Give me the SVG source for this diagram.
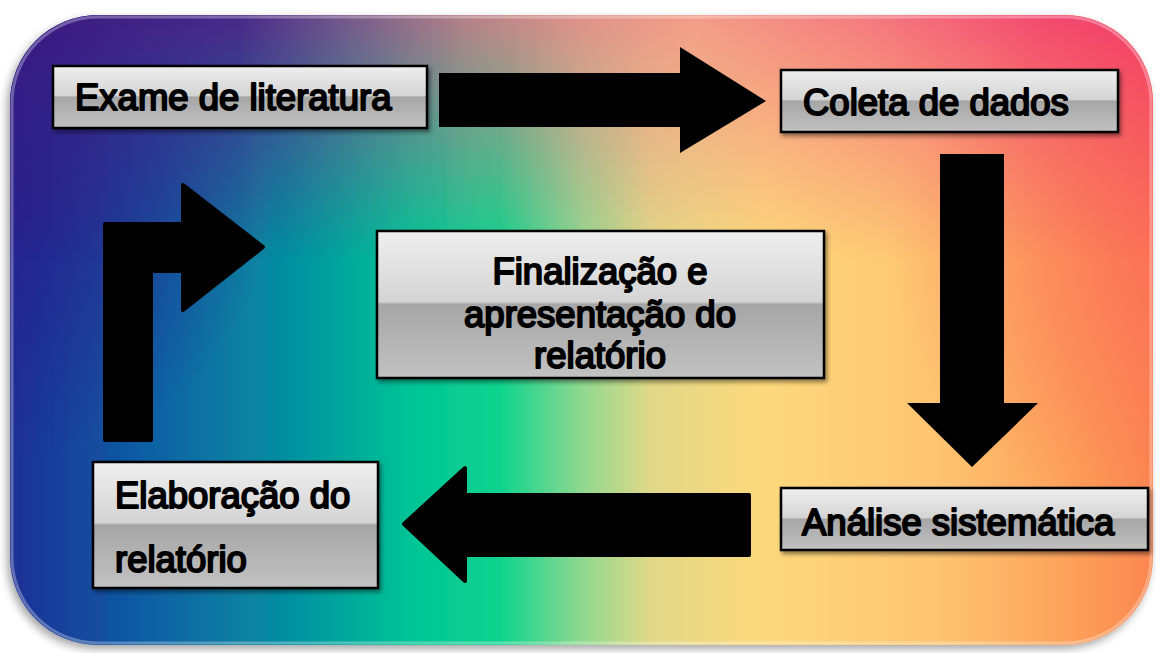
<svg xmlns="http://www.w3.org/2000/svg" width="1156" height="653" viewBox="0 0 1156 653">
<defs>
<style>
.box{stroke:#000;stroke-width:2.5;fill:url(#boxGrad);filter:url(#nodeShadow)}
.lbl{font-family:"Liberation Sans",Arial,Helvetica,sans-serif;font-size:36.5px;fill:#000;stroke:#000;stroke-width:2;stroke-linejoin:round}
.arrow{fill:#000}
.arrowR{fill:#000;stroke:#000;stroke-width:4;stroke-linejoin:round}
</style>
<linearGradient id="boxGrad" x1="0" y1="0" x2="0" y2="1">
<stop offset="0" stop-color="#efefef"/>
<stop offset="0.48" stop-color="#d4d4d4"/>
<stop offset="0.5" stop-color="#a6a6a6"/>
<stop offset="1" stop-color="#c2c2c2"/>
</linearGradient>
<linearGradient id="bgBase" x1="10" y1="0" x2="1153" y2="0" gradientUnits="userSpaceOnUse">
<stop offset="0" stop-color="#1c2f96"/>
<stop offset="0.12" stop-color="#0d5fa4"/>
<stop offset="0.25" stop-color="#0592a0"/>
<stop offset="0.35" stop-color="#00c496"/>
<stop offset="0.43" stop-color="#10d48e"/>
<stop offset="0.5" stop-color="#8fd890"/>
<stop offset="0.56" stop-color="#e0d888"/>
<stop offset="0.66" stop-color="#fdd97c"/>
<stop offset="0.82" stop-color="#fdc270"/>
<stop offset="0.93" stop-color="#fca05a"/>
<stop offset="1" stop-color="#fb8650"/>
</linearGradient>
<linearGradient id="bgTop" x1="10" y1="0" x2="1153" y2="0" gradientUnits="userSpaceOnUse">
<stop offset="0" stop-color="#3a1880"/>
<stop offset="0.2" stop-color="#4a2888"/>
<stop offset="0.3" stop-color="#7a5a8a"/>
<stop offset="0.4" stop-color="#b88088"/>
<stop offset="0.5" stop-color="#e0928a"/>
<stop offset="0.6" stop-color="#f29c88"/>
<stop offset="0.75" stop-color="#f47a80"/>
<stop offset="0.9" stop-color="#f24a70"/>
<stop offset="1" stop-color="#f23a68"/>
</linearGradient>
<linearGradient id="topFade" x1="0" y1="15" x2="0" y2="260" gradientUnits="userSpaceOnUse">
<stop offset="0" stop-color="#fff" stop-opacity="1"/>
<stop offset="0.35" stop-color="#fff" stop-opacity="0.65"/>
<stop offset="1" stop-color="#fff" stop-opacity="0"/>
</linearGradient>
<mask id="topMask" maskUnits="userSpaceOnUse" x="0" y="0" width="1156" height="653">
<rect x="0" y="0" width="1156" height="653" fill="url(#topFade)"/>
</mask>
<radialGradient id="rightGlow" cx="1153" cy="250" r="260" gradientUnits="userSpaceOnUse">
<stop offset="0" stop-color="#fb6a5a" stop-opacity="0.7"/>
<stop offset="1" stop-color="#fb6a5a" stop-opacity="0"/>
</radialGradient>
<radialGradient id="leftGlow" cx="10" cy="200" r="260" gradientUnits="userSpaceOnUse">
<stop offset="0" stop-color="#2a1e8a" stop-opacity="0.8"/>
<stop offset="1" stop-color="#2a1e8a" stop-opacity="0"/>
</radialGradient>
<clipPath id="bgClip">
<rect x="10" y="15" width="1143" height="630" rx="88" ry="88"/>
</clipPath>
<filter id="bgShadow" x="-5%" y="-5%" width="110%" height="112%">
<feDropShadow dx="-3" dy="4" stdDeviation="4" flood-color="#000" flood-opacity="0.35"/>
</filter>
<filter id="nodeShadow" x="-10%" y="-20%" width="120%" height="150%">
<feDropShadow dx="2" dy="3" stdDeviation="2" flood-color="#000" flood-opacity="0.45"/>
</filter>
</defs>

<g id="background">
<rect x="10" y="15" width="1143" height="630" rx="88" ry="88" fill="url(#bgBase)" filter="url(#bgShadow)"/>
<g clip-path="url(#bgClip)">
<rect x="10" y="15" width="1143" height="630" fill="url(#leftGlow)"/>
<rect x="10" y="15" width="1143" height="630" fill="url(#rightGlow)"/>
<rect x="10" y="15" width="1143" height="630" fill="url(#bgTop)" mask="url(#topMask)"/>
</g>
<rect x="12" y="17" width="1139" height="626" rx="86" ry="86" fill="none" stroke="#fff" stroke-opacity="0.3" stroke-width="3"/>
</g>

<g id="connectors">
<path class="arrow" d="M439,73 H680 V47 L766,101 L680,153 V127 H439 Z"/>
<path class="arrow" d="M940,154 H1004 V403 H1038 L972,467 L907,403 H940 Z"/>
<path class="arrowR" d="M749,495 V555 H465 V581 L404,524 L465,468 V495 Z"/>
<path class="arrowR" d="M105,440 V224 H183 V185 L263,247 L183,310 V271 H151 V440 Z"/>
</g>

<g id="node-exame">
<rect class="box" x="53" y="66" width="374" height="62"/>
<text class="lbl" x="75" y="110">Exame de literatura</text>
</g>

<g id="node-coleta">
<rect class="box" x="781" y="70" width="337" height="62"/>
<text class="lbl" x="803" y="115">Coleta de dados</text>
</g>

<g id="node-analise">
<rect class="box" x="781" y="488" width="367" height="62"/>
<text class="lbl" x="802" y="535">Análise sistemática</text>
</g>

<g id="node-elaboracao">
<rect class="box" x="93" y="462" width="285" height="126"/>
<text class="lbl" x="115" y="508">Elaboração do</text>
<text class="lbl" x="115" y="572">relatório</text>
</g>

<g id="node-finalizacao">
<rect class="box" x="377" y="231" width="447" height="147"/>
<text class="lbl" x="600" y="284" text-anchor="middle">Finalização e</text>
<text class="lbl" x="600" y="327" text-anchor="middle">apresentação do</text>
<text class="lbl" x="600" y="368" text-anchor="middle">relatório</text>
</g>
</svg>
